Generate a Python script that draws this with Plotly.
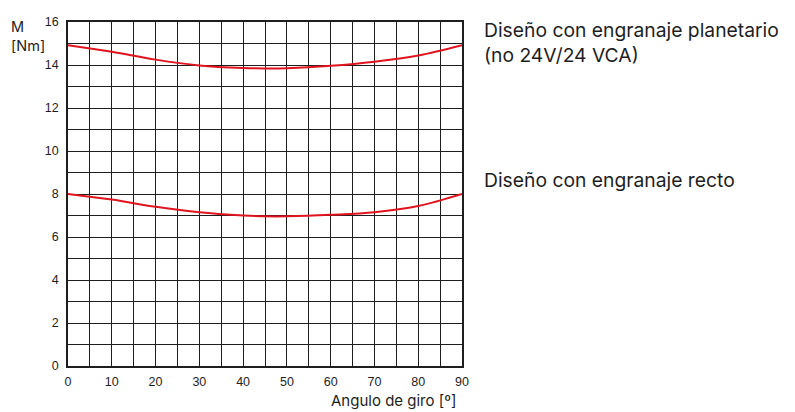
import plotly.graph_objects as go

angle = [0, 10, 20, 30, 40, 45, 50, 60, 70, 80, 90]
torque_planetary = [14.92, 14.62, 14.25, 13.98, 13.86, 13.84, 13.85, 13.96, 14.15, 14.44, 14.92]
torque_straight = [8.0, 7.74, 7.41, 7.15, 7.0, 6.96, 6.96, 7.03, 7.15, 7.44, 8.0]

label_planetary = "Diseño con engranaje planetario<br>(no 24V/24 VCA)"
label_straight = "Diseño con engranaje recto"
x_title = "Angulo de giro [º]"
y_title = "M<br>[Nm]"

fig = go.Figure()
for y in (torque_planetary, torque_straight):
    fig.add_trace(go.Scatter(x=angle, y=y, mode="lines",
                             line=dict(color="#e0141e", width=2, shape="spline", smoothing=1.0),
                             showlegend=False, hoverinfo="skip"))

font = "'Liberation Sans', Arial, sans-serif"
font2 = "Inter, 'Liberation Sans', sans-serif"
ink = "#1e1e1e"
fig.update_layout(
    width=787, height=404,
    margin=dict(l=60, r=333, t=7, b=46),
    paper_bgcolor="white", plot_bgcolor="white",
    font=dict(family=font, color=ink),
    xaxis=dict(range=[0, 90], tickvals=[0, 10, 20, 30, 40, 50, 60, 70, 80, 90],
               showgrid=True, gridcolor=ink, gridwidth=1,
               minor=dict(dtick=5, tick0=0, showgrid=True, gridcolor=ink, gridwidth=1),
               showline=True, linecolor=ink, linewidth=1.5, mirror=True, zeroline=False, ticks="",
               ticklabelstandoff=3,
               tickfont=dict(size=12.5, family=font, color=ink)),
    yaxis=dict(range=[0, 16], tickvals=[0, 2, 4, 6, 8, 10, 12, 14, 16],
               showgrid=True, gridcolor=ink, gridwidth=1,
               minor=dict(dtick=1, tick0=0, showgrid=True, gridcolor=ink, gridwidth=1),
               showline=True, linecolor=ink, linewidth=1.5, mirror=True, zeroline=False, ticks="",
               ticklabelstandoff=5,
               tickfont=dict(size=12.5, family=font, color=ink)),
)
fig.add_annotation(xref="paper", yref="paper", x=0.990, y=-0.0997, xanchor="right", yanchor="middle",
                   text=x_title, showarrow=False, font=dict(size=15, family=font2, color=ink))
fig.add_annotation(xref="paper", yref="paper", x=-0.1497, y=1.017, xanchor="left", yanchor="top",
                   text=y_title, showarrow=False, align="left", font=dict(size=14.5, family=font2, color=ink))
fig.add_annotation(xref="paper", yref="y", x=1.050, y=15.04, xanchor="left", yanchor="middle",
                   text=label_planetary, showarrow=False, align="left", font=dict(size=19.3, family=font2, color=ink))
fig.add_annotation(xref="paper", yref="y", x=1.050, y=8.65, xanchor="left", yanchor="middle",
                   text=label_straight, showarrow=False, align="left", font=dict(size=19.3, family=font2, color=ink))
fig.write_html("out.html")
